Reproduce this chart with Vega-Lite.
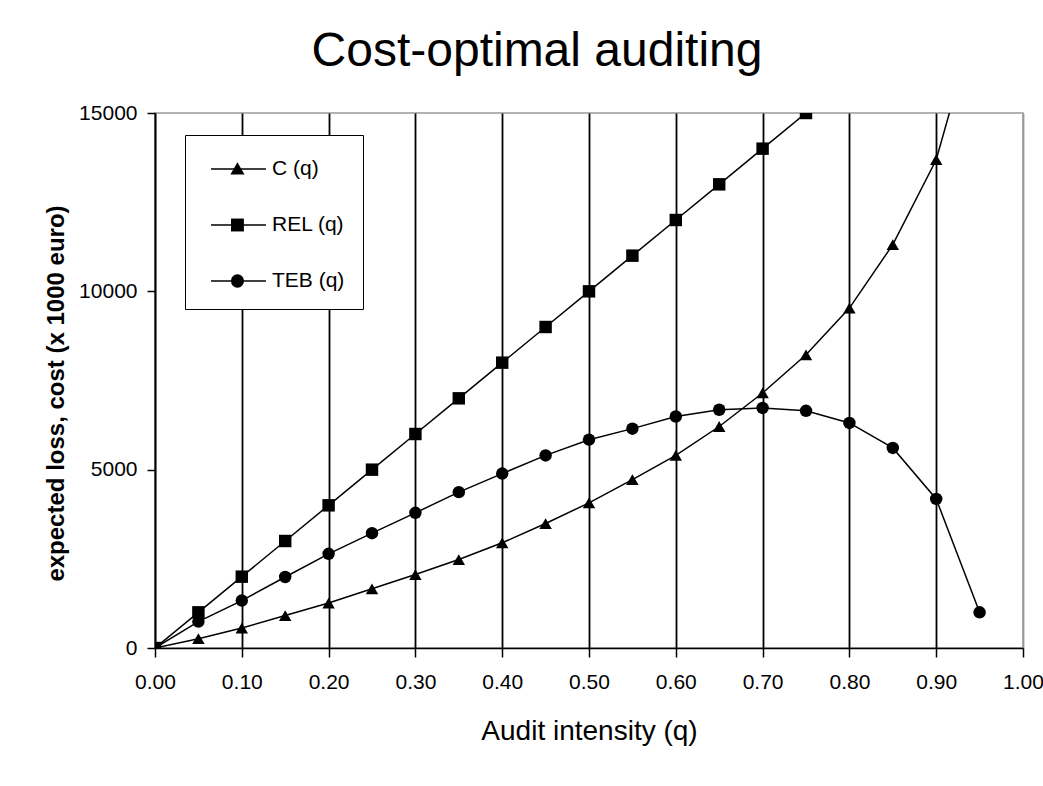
{
  "$schema": "https://vega.github.io/schema/vega-lite/v6.json",
  "width": 868,
  "height": 535,
  "autosize": {"type": "none"},
  "padding": {"left": 155, "top": 113, "right": 20, "bottom": 100},
  "background": "white",
  "title": {"text": "Cost-optimal auditing", "fontSize": 48, "font": "Liberation Sans", "fontWeight": "normal", "color": "black", "anchor": "middle", "frame": "group", "dx": -52, "offset": -12, "baseline": "alphabetic"},
  "config": {"view": {"stroke": "#999999", "strokeWidth": 1.5}, "font": "Liberation Sans"},
  "data": {"values": [
    {"q": 0.00, "series": "C (q)", "value": 0},
    {"q": 0.05, "series": "C (q)", "value": 260},
    {"q": 0.10, "series": "C (q)", "value": 560},
    {"q": 0.15, "series": "C (q)", "value": 910},
    {"q": 0.20, "series": "C (q)", "value": 1260},
    {"q": 0.25, "series": "C (q)", "value": 1660},
    {"q": 0.30, "series": "C (q)", "value": 2060},
    {"q": 0.35, "series": "C (q)", "value": 2480},
    {"q": 0.40, "series": "C (q)", "value": 2950},
    {"q": 0.45, "series": "C (q)", "value": 3490},
    {"q": 0.50, "series": "C (q)", "value": 4070},
    {"q": 0.55, "series": "C (q)", "value": 4720},
    {"q": 0.60, "series": "C (q)", "value": 5400},
    {"q": 0.65, "series": "C (q)", "value": 6210},
    {"q": 0.70, "series": "C (q)", "value": 7150},
    {"q": 0.75, "series": "C (q)", "value": 8220},
    {"q": 0.80, "series": "C (q)", "value": 9530},
    {"q": 0.85, "series": "C (q)", "value": 11310},
    {"q": 0.90, "series": "C (q)", "value": 13690},
    {"q": 0.95, "series": "C (q)", "value": 18000},
    {"q": 0.00, "series": "REL (q)", "value": 0},
    {"q": 0.05, "series": "REL (q)", "value": 1000},
    {"q": 0.10, "series": "REL (q)", "value": 2000},
    {"q": 0.15, "series": "REL (q)", "value": 3000},
    {"q": 0.20, "series": "REL (q)", "value": 4000},
    {"q": 0.25, "series": "REL (q)", "value": 5000},
    {"q": 0.30, "series": "REL (q)", "value": 6000},
    {"q": 0.35, "series": "REL (q)", "value": 7000},
    {"q": 0.40, "series": "REL (q)", "value": 8000},
    {"q": 0.45, "series": "REL (q)", "value": 9000},
    {"q": 0.50, "series": "REL (q)", "value": 10000},
    {"q": 0.55, "series": "REL (q)", "value": 11000},
    {"q": 0.60, "series": "REL (q)", "value": 12000},
    {"q": 0.65, "series": "REL (q)", "value": 13000},
    {"q": 0.70, "series": "REL (q)", "value": 14000},
    {"q": 0.75, "series": "REL (q)", "value": 15000},
    {"q": 0.00, "series": "TEB (q)", "value": 0},
    {"q": 0.05, "series": "TEB (q)", "value": 740},
    {"q": 0.10, "series": "TEB (q)", "value": 1330},
    {"q": 0.15, "series": "TEB (q)", "value": 1990},
    {"q": 0.20, "series": "TEB (q)", "value": 2640},
    {"q": 0.25, "series": "TEB (q)", "value": 3220},
    {"q": 0.30, "series": "TEB (q)", "value": 3790},
    {"q": 0.35, "series": "TEB (q)", "value": 4370},
    {"q": 0.40, "series": "TEB (q)", "value": 4890},
    {"q": 0.45, "series": "TEB (q)", "value": 5400},
    {"q": 0.50, "series": "TEB (q)", "value": 5840},
    {"q": 0.55, "series": "TEB (q)", "value": 6150},
    {"q": 0.60, "series": "TEB (q)", "value": 6490},
    {"q": 0.65, "series": "TEB (q)", "value": 6680},
    {"q": 0.70, "series": "TEB (q)", "value": 6730},
    {"q": 0.75, "series": "TEB (q)", "value": 6650},
    {"q": 0.80, "series": "TEB (q)", "value": 6310},
    {"q": 0.85, "series": "TEB (q)", "value": 5610},
    {"q": 0.90, "series": "TEB (q)", "value": 4180},
    {"q": 0.95, "series": "TEB (q)", "value": 1000}
  ]},
  "encoding": {
    "x": {
      "field": "q", "type": "quantitative",
      "scale": {"domain": [0, 1], "nice": false, "zero": false},
      "axis": {
        "title": "Audit intensity (q)",
        "values": [0, 0.1, 0.2, 0.3, 0.4, 0.5, 0.6, 0.7, 0.8, 0.9, 1.0],
        "format": ".2f",
        "grid": true,
        "gridColor": {"condition": {"test": "datum.value >= 0.999", "value": "#999999"}, "value": "black"},
        "gridWidth": 1.8,
        "gridOpacity": 1,
        "domainColor": "black", "domainWidth": 1.5,
        "tickColor": "black", "tickSize": 9, "tickWidth": 1.5,
        "labelFont": "Liberation Sans", "labelFontSize": 21, "labelColor": "black", "labelPadding": 14,
        "labelFlush": false, "labelOverlap": false,
        "titleFont": "Liberation Sans", "titleFontSize": 28, "titleFontWeight": "normal", "titleColor": "black", "titlePadding": 25
      }
    },
    "y": {
      "field": "value", "type": "quantitative",
      "scale": {"domain": [0, 15000], "nice": false},
      "axis": {
        "title": "expected loss, cost (x 1000 euro)",
        "values": [0, 5000, 10000, 15000],
        "format": "d",
        "grid": false,
        "domainColor": "black", "domainWidth": 1.5,
        "tickColor": "black", "tickSize": 8, "tickWidth": 1.5,
        "labelFont": "Liberation Sans", "labelFontSize": 21, "labelColor": "black", "labelPadding": 10,
        "titleFont": "Liberation Sans", "titleFontSize": 24, "titleFontWeight": "bold", "titleColor": "black",
        "titleX": -87, "titleY": 280, "titleAngle": 270, "titleBaseline": "bottom", "titleAlign": "center"
      }
    }
  },
  "layer": [
    {
      "mark": {"type": "line", "color": "black", "strokeWidth": 1.5, "clip": true},
      "encoding": {"detail": {"field": "series"}}
    },
    {
      "mark": {"type": "point", "filled": true, "color": "black", "opacity": 1, "size": 155, "clip": true},
      "encoding": {
        "shape": {
          "field": "series", "type": "nominal",
          "scale": {"domain": ["C (q)", "REL (q)", "TEB (q)"], "range": ["triangle-up", "square", "circle"]},
          "legend": null
        }
      }
    },
    {
      "mark": {"type": "point", "filled": false, "color": "black", "strokeWidth": 1.5, "opacity": 0, "size": 900, "clip": true},
      "encoding": {
        "shape": {
          "field": "series", "type": "nominal",
          "scale": {
            "domain": ["C (q)", "REL (q)", "TEB (q)"],
            "range": ["M-0.53,0L3.13,0", "M-0.53,0.001L3.13,0.001", "M-0.53,0.002L3.13,0.002"]
          },
          "legend": {
            "title": null,
            "orient": "none",
            "legendX": 30,
            "legendY": 22,
            "padding": 18,
            "fillColor": "white",
            "strokeColor": "black",
            "cornerRadius": 0,
            "symbolSize": 900,
            "symbolStrokeWidth": 1.5,
            "symbolStrokeColor": "black",
            "symbolOpacity": 1,
            "labelFont": "Liberation Sans",
            "labelFontSize": 21,
            "labelColor": "black",
            "labelOffset": 37,
            "rowPadding": 30
          }
        }
      }
    },
    {
      "mark": {"type": "point", "filled": true, "color": "black", "opacity": 0, "size": 900, "clip": true},
      "encoding": {
        "shape": {
          "field": "series", "type": "nominal",
          "scale": {
            "domain": ["C (q)", "REL (q)", "TEB (q)"],
            "range": [
              "M1.23,-0.45L1.7,0.36L0.76,0.36Z",
              "M0.8,-0.43H1.66V0.43H0.8Z",
              "M0.8,0A0.43,0.45 0 1,0 1.66,0A0.43,0.45 0 1,0 0.8,0Z"
            ]
          },
          "legend": {
            "title": null,
            "orient": "none",
            "legendX": 30,
            "legendY": 22,
            "padding": 18,
            "symbolSize": 900,
            "symbolStrokeWidth": 1.5,
            "symbolFillColor": "black",
            "symbolOpacity": 1,
            "labelFont": "Liberation Sans",
            "labelFontSize": 21,
            "labelColor": "black",
            "labelOpacity": 0,
            "labelOffset": 37,
            "rowPadding": 30
          }
        }
      }
    }
  ],
  "resolve": {"scale": {"shape": "independent"}, "legend": {"shape": "independent"}}
}
